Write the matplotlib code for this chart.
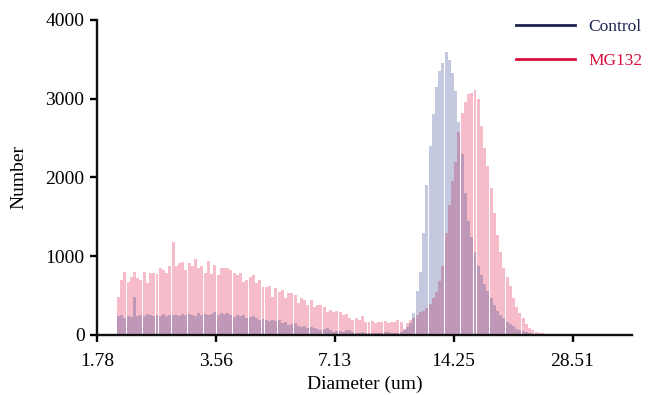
import numpy as np
import matplotlib
matplotlib.use("Agg")
import matplotlib.pyplot as plt
from matplotlib.lines import Line2D

plt.rcParams['font.family'] = ['Liberation Serif', 'DejaVu Serif']

# bins: 37 per octave starting at 2.0 um
n_bins = 136
edges = 2.0 * 2 ** (np.arange(n_bins + 1) / 37)

mg132 = [
    480, 700, 800, 670, 740, 800, 720, 700, 800, 660, 790, 790, 775, 850, 830, 790, 870,
    1180, 870, 910, 925, 830, 910, 870, 960, 850, 870, 790, 940, 775, 890, 760, 850, 850,
    850, 825, 785, 760, 785, 675, 700, 740, 760, 660, 700, 610, 610, 625, 485, 595, 550,
    570, 470, 530, 530, 510, 400, 470, 445, 380, 445, 360, 380, 380, 360, 290, 320, 290,
    300, 290, 255, 270, 215, 190, 215, 190, 237, 165, 165, 175, 150, 165, 160, 175, 150,
    160, 170, 190, 170, 80, 150, 190, 220, 260, 290, 310, 340, 390, 470, 550, 690, 870,
    1300, 1650, 1950, 2200, 2580, 2820, 2960, 3060, 3070, 3110, 3000, 2650, 2380, 2150,
    1870, 1550, 1270, 1050, 850, 740, 620, 470, 360, 280, 210, 140, 95, 60, 40, 28, 20,
    12, 8, 5,
]

control = [
    240, 250, 220, 245, 230, 480, 240, 255, 235, 270, 260, 240, 250, 245, 265, 240, 255,
    250, 260, 245, 265, 250, 270, 255, 245, 280, 260, 270, 250, 265, 290, 260, 275, 270,
    280, 260, 230, 250, 245, 250, 218, 230, 235, 220, 190, 200, 185, 180, 195, 175, 185,
    150, 160, 127, 140, 155, 120, 100, 110, 95, 100, 85, 70, 64, 80, 85, 60, 40, 55, 45,
    40, 60, 64, 40, 30, 25, 35, 20, 25, 30, 20, 25, 30, 35, 40,
    30, 25, 30, 40, 60, 100, 150, 280, 560, 800, 1300, 1900, 2400, 2800, 3150, 3350,
    3450, 3590, 3490, 3330, 3100, 2700, 2300, 1800, 1450, 1250, 1050, 880, 760, 650, 560,
    470, 380, 310, 250, 210, 170, 140, 110, 80, 60, 45, 32, 22, 15, 10, 7, 5, 3, 2, 1,
]

tick_vals = [1.78, 3.56, 7.13, 14.25, 28.51]
tick_labels = ["1.78", "3.56", "7.13", "14.25", "28.51"]

navy = "#1c2550"
crimson = "#d8103c"

fig = plt.figure(figsize=(6.48, 3.95), dpi=100)
ax = fig.add_axes([0.1497, 0.1519, 0.8253, 0.7975])

left = edges[:-1]
w = np.diff(edges) * 0.92
ax.bar(left, mg132, width=w, align='edge', color="#e0103f", alpha=0.28, linewidth=0)
ax.bar(left, control, width=w, align='edge', color="#2b3a8c", alpha=0.27, linewidth=0)

ax.set_xscale('log')
ax.set_xlim(1.78, 1.78 * 2 ** 4.5)
ax.set_ylim(0, 4000)
ax.set_xticks(tick_vals)
ax.set_xticklabels(tick_labels)
ax.xaxis.set_minor_locator(matplotlib.ticker.NullLocator())
ax.set_yticks([0, 1000, 2000, 3000, 4000])

for s in ['top', 'right']:
    ax.spines[s].set_visible(False)
for s in ['left', 'bottom']:
    ax.spines[s].set_linewidth(1.7)
    ax.spines[s].set_color("#111111")
ax.tick_params(direction='out', length=5, width=1.7, labelsize=14)
ax.tick_params(axis='x', pad=8)
ax.tick_params(axis='y', pad=4)

ax.set_xlabel("Diameter (um)", fontsize=14, labelpad=4)
ax.set_ylabel("Number", fontsize=14, labelpad=13)

handles = [Line2D([], [], color=navy, lw=2), Line2D([], [], color=crimson, lw=2)]
leg = fig.legend(handles, ["Control", "MG132"], loc='upper left',
                 bbox_to_anchor=(0.797, 0.952), frameon=False, fontsize=12.5,
                 handlelength=3.4, handletextpad=0.75, labelspacing=1.05,
                 borderpad=0, borderaxespad=0)
for t, c in zip(leg.get_texts(), [navy, crimson]):
    t.set_color(c)

fig.savefig("out.png", dpi=100)
